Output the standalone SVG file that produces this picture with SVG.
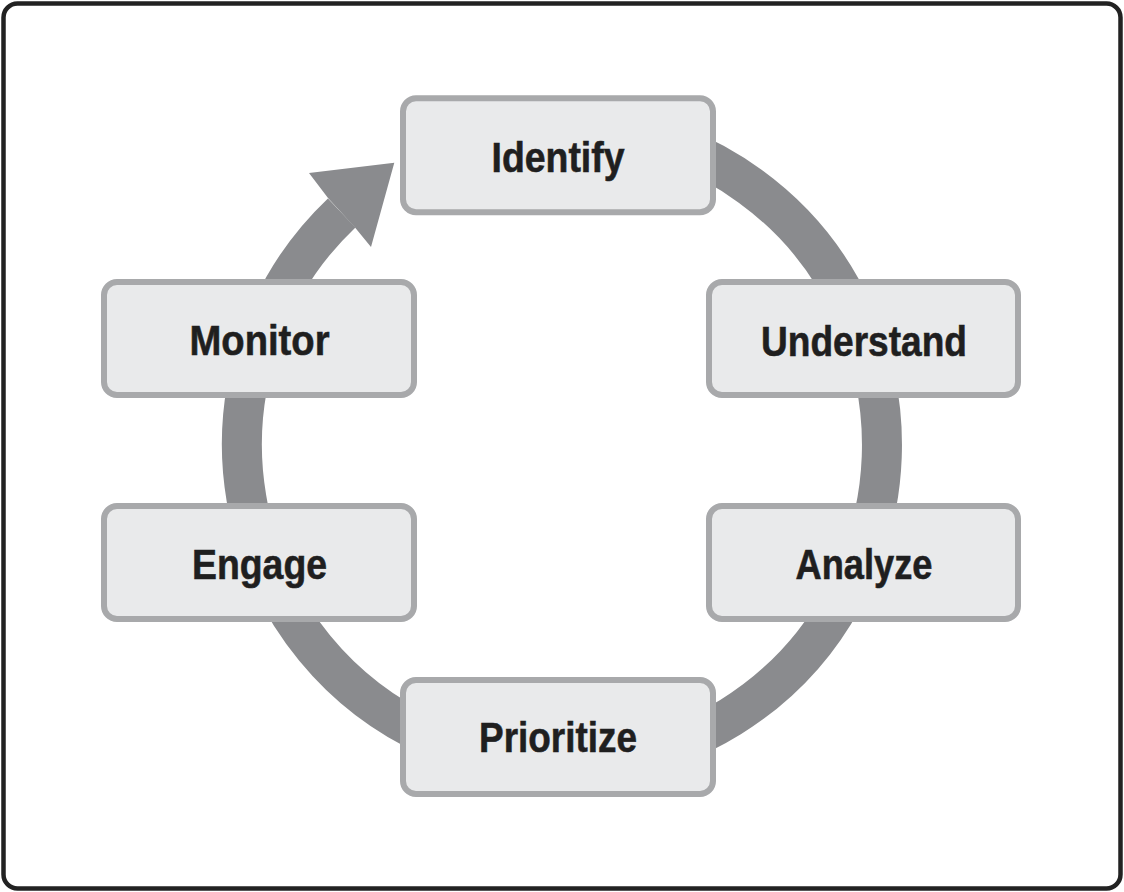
<svg xmlns="http://www.w3.org/2000/svg" width="1124" height="892" viewBox="0 0 1124 892">
  <style>
    .box { fill: #e9eaeb; stroke: #a8a9ab; stroke-width: 6; }
    .lbl { font-family: "Liberation Sans", Arial, sans-serif; font-weight: bold; font-size: 43px; fill: #1f1f1f; stroke: #1f1f1f; stroke-width: 0.6; text-anchor: middle; }
    .ring { fill: none; stroke: #8a8b8e; stroke-width: 40; }
    .head { fill: #8a8b8e; }
  </style>
  <rect x="3.5" y="3.5" width="1117" height="885" rx="14" fill="#ffffff" stroke="#222222" stroke-width="4.5"/>
  <g id="connectors">
    <path class="ring" d="M 452.6 144.3 A 320 320 0 1 1 341.7 212.9"/>
    <polygon class="head" points="328,198 309,173 394.3,162.7 371,247 355,227.5"/>
  </g>
  <g id="identify">
    <rect class="box" x="403" y="98.3" width="310" height="114" rx="13"/>
    <text class="lbl" x="558" y="171.5" textLength="133" lengthAdjust="spacingAndGlyphs">Identify</text>
  </g>
  <g id="understand">
    <rect class="box" x="709" y="282" width="309" height="113" rx="13"/>
    <text class="lbl" x="864" y="355.5" textLength="206" lengthAdjust="spacingAndGlyphs">Understand</text>
  </g>
  <g id="analyze">
    <rect class="box" x="709" y="506" width="309" height="113" rx="13"/>
    <text class="lbl" x="864" y="579" textLength="137" lengthAdjust="spacingAndGlyphs">Analyze</text>
  </g>
  <g id="prioritize">
    <rect class="box" x="403" y="680" width="310" height="114" rx="13"/>
    <text class="lbl" x="558" y="752" textLength="158" lengthAdjust="spacingAndGlyphs">Prioritize</text>
  </g>
  <g id="engage">
    <rect class="box" x="104" y="506" width="310" height="113" rx="13"/>
    <text class="lbl" x="259.5" y="579" textLength="135" lengthAdjust="spacingAndGlyphs">Engage</text>
  </g>
  <g id="monitor">
    <rect class="box" x="104" y="282" width="310" height="113" rx="13"/>
    <text class="lbl" x="259.5" y="355" textLength="140" lengthAdjust="spacingAndGlyphs">Monitor</text>
  </g>
</svg>
